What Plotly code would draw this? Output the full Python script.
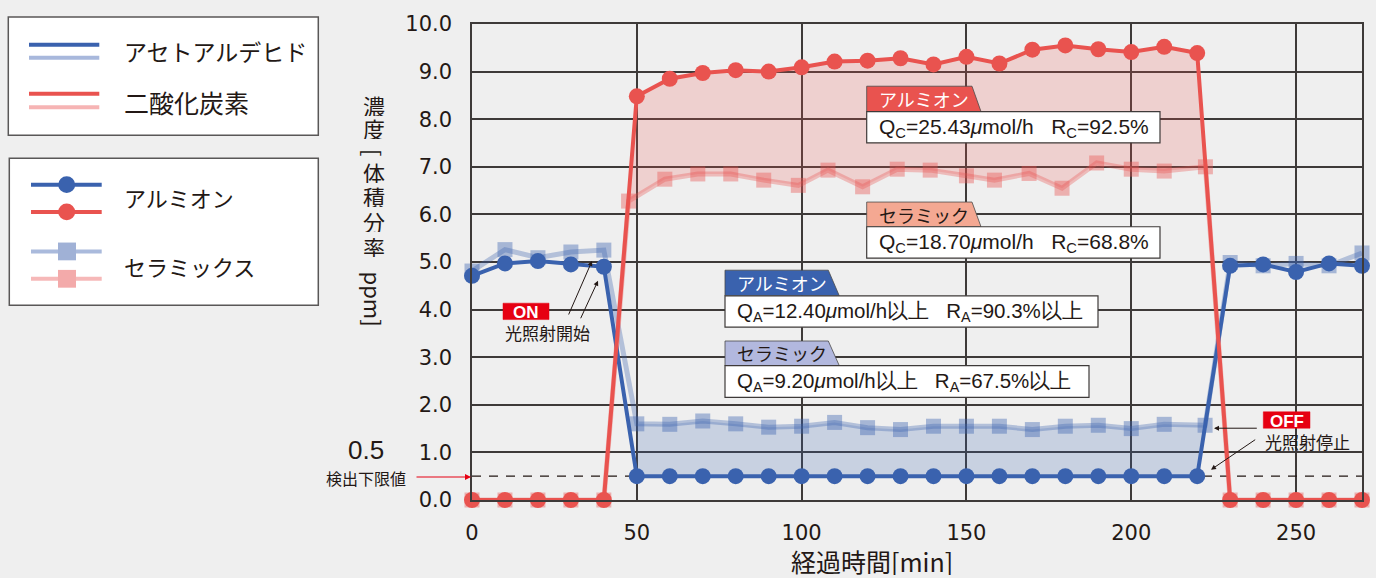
import plotly.graph_objects as go

# ---------------- data ----------------
time_al = [0, 10, 20, 30, 40, 50, 60, 70, 80, 90, 100, 110, 120, 130, 140, 150, 160, 170,
           180, 190, 200, 210, 220, 230, 240, 250, 260, 270]
acet_alumion = [4.71, 4.97, 5.02, 4.95, 4.90,
                0.5, 0.5, 0.5, 0.5, 0.5, 0.5, 0.5, 0.5, 0.5, 0.5, 0.5, 0.5, 0.5, 0.5, 0.5, 0.5, 0.5, 0.5,
                4.92, 4.95, 4.79, 4.97, 4.92]
co2_alumion = [0, 0, 0, 0, 0,
               8.48, 8.85, 8.97, 9.03, 9.00, 9.09, 9.21, 9.23, 9.28, 9.15, 9.31, 9.17, 9.46, 9.55,
               9.47, 9.41, 9.52, 9.39,
               0, 0, 0, 0, 0]

time_acet_ceramic = [0, 10, 20, 30, 40, 50, 60, 70, 80, 90, 100, 110, 120, 130, 140, 150, 160,
                     170, 180, 190, 200, 210, 222.4, 230, 240, 250, 260, 270]
acet_ceramic = [4.81, 5.26, 5.09, 5.21, 5.25,
                1.60, 1.59, 1.66, 1.60, 1.53, 1.55, 1.63, 1.52, 1.48, 1.55, 1.55, 1.55, 1.48,
                1.55, 1.57, 1.50, 1.59, 1.57,
                4.99, 4.92, 4.97, 4.92, 5.19]

time_co2_ceramic = [0, 10, 20, 30, 40, 47.5, 58.5, 68.5, 78.5, 88.5, 99, 108, 118.5, 129, 139,
                    150, 158.5, 169, 179, 189.5, 200, 210, 222.5, 230, 240, 250, 260, 270]
co2_ceramic = [0, 0, 0, 0, 0,
               6.28, 6.74, 6.85, 6.85, 6.72, 6.61, 6.93, 6.58, 6.95, 6.93, 6.81, 6.72, 6.86,
               6.55, 7.08, 6.95, 6.91, 7.00,
               0, 0, 0, 0, 0]

x_ticks = [0, 50, 100, 150, 200, 250]
y_ticks = [0, 1, 2, 3, 4, 5, 6, 7, 8, 9, 10]
detect_limit = 0.5
light_on, light_off = 5, 23  # index range of irradiation period

# ---------------- style ----------------
BG = "#efefef"
INK = "#231815"
GRID = "#3e3a39"
BLUE = "rgb(58,98,174)"
RED = "rgb(233,83,79)"
JP = "Noto Sans CJK JP"
NUM = "DejaVu Sans"
LAT = "Liberation Sans"
W, H = 1376, 578
L, R, T, B = 472, 14, 18, 78
PW, PH = W - L - R, H - T - B


def PX(x):
    return (x - L) / PW


def PY(y):
    return (T + PH - y) / PH


fig = go.Figure()

# fills between series during irradiation
red_fill_x = time_al[light_on:light_off] + time_co2_ceramic[light_on:light_off][::-1]
red_fill_y = co2_alumion[light_on:light_off] + co2_ceramic[light_on:light_off][::-1]
fig.add_trace(go.Scatter(x=red_fill_x, y=red_fill_y, mode="lines", fill="toself",
                         fillcolor="rgba(233,83,79,0.2)", line=dict(width=0),
                         hoverinfo="skip", showlegend=False))
blue_fill_x = time_acet_ceramic[light_on:light_off] + time_al[light_on:light_off][::-1]
blue_fill_y = acet_ceramic[light_on:light_off] + acet_alumion[light_on:light_off][::-1]
fig.add_trace(go.Scatter(x=blue_fill_x, y=blue_fill_y, mode="lines", fill="toself",
                         fillcolor="rgba(58,98,174,0.21)", line=dict(width=0),
                         hoverinfo="skip", showlegend=False))

# ceramic series (light, squares)
fig.add_trace(go.Scatter(x=time_acet_ceramic, y=acet_ceramic, mode="lines+markers",
                         line=dict(color="rgba(58,98,174,0.33)", width=5),
                         marker=dict(symbol="square", size=15, color="rgba(58,98,174,0.4)"),
                         cliponaxis=False, showlegend=False))
fig.add_trace(go.Scatter(x=time_co2_ceramic, y=co2_ceramic, mode="lines+markers",
                         line=dict(color="rgba(233,83,79,0.33)", width=5),
                         marker=dict(symbol="square", size=15, color="rgba(233,83,79,0.4)"),
                         cliponaxis=False, showlegend=False))
# alumion series (dark, circles)
fig.add_trace(go.Scatter(x=time_al, y=acet_alumion, mode="lines+markers",
                         line=dict(color=BLUE, width=4),
                         marker=dict(symbol="circle", size=16, color=BLUE),
                         cliponaxis=False, showlegend=False))
fig.add_trace(go.Scatter(x=time_al, y=co2_alumion, mode="lines+markers",
                         line=dict(color=RED, width=4),
                         marker=dict(symbol="circle", size=16, color=RED),
                         cliponaxis=False, showlegend=False))

shapes = []
annos = []

# detection limit dashed line
shapes.append(dict(type="line", xref="x", yref="y", x0=0, x1=270, y0=detect_limit, y1=detect_limit,
                   line=dict(color=INK, width=1.3, dash="9px,8px"), layer="between"))


def txt(x, y, s, size, color=INK, family=JP, xanchor="center", yanchor="middle", angle=0,
        height=None):
    a = dict(x=PX(x), y=PY(y), xref="paper", yref="paper", text=s, showarrow=False,
             xanchor=xanchor, yanchor=yanchor, textangle=angle,
             font=dict(size=size, color=color, family=family))
    if height is not None:
        a["height"] = height
    annos.append(a)


def arrow(hx, hy, tx, ty, color=INK, width=1.0, size=1.0):
    annos.append(dict(x=PX(hx), y=PY(hy), xref="paper", yref="paper", text="", showarrow=True,
                      ax=tx - hx, ay=ty - hy, arrowhead=2, arrowsize=size, arrowwidth=width,
                      arrowcolor=color))


def rect(x0, y0, x1, y1, fill, line=GRID, lw=1.2):
    shapes.append(dict(type="rect", xref="paper", yref="paper", x0=PX(x0), x1=PX(x1),
                       y0=PY(y1), y1=PY(y0), fillcolor=fill,
                       line=dict(color=line, width=lw), layer="above"))


def tab(x0, y0, xt, xb, y1, fill):
    p = "M {} {} L {} {} L {} {} L {} {} Z".format(PX(x0), PY(y1), PX(x0), PY(y0), PX(xt), PY(y0),
                                                   PX(xb), PY(y1))
    shapes.append(dict(type="path", xref="paper", yref="paper", path=p, fillcolor=fill,
                       line=dict(color="#4a4a4a", width=0.8), layer="above"))


NB = "\u00a0"
# annotation boxes (CO2)
tab(866.7, 81, 972, 981, 106.7, RED)
txt(876.7, 94, "アルミオン", 18, color="white", xanchor="left")
rect(866.7, 106.7, 1160, 138.3, "white")
txt(876.7, 123, "Q<sub>C</sub>=25.43<i>μ</i>mol/h" + NB * 3 + "R<sub>C</sub>=92.5%", 21,
    family=LAT, xanchor="left")
tab(866.7, 198.3, 972, 981, 223.3, "rgb(244,168,146)")
txt(876.7, 211, "セラミック", 18, xanchor="left")
rect(866.7, 223.3, 1160, 255, "white")
txt(876.7, 239.5, "Q<sub>C</sub>=18.70<i>μ</i>mol/h" + NB * 3 + "R<sub>C</sub>=68.8%", 21,
    family=LAT, xanchor="left")
# annotation boxes (acetaldehyde)
tab(725, 267.3, 828.3, 839.3, 293.3, BLUE)
txt(735, 280.5, "アルミオン", 18, color="white", xanchor="left")
rect(725, 293.3, 1098, 325, "white")
txt(735, 309.5, "Q<sub>A</sub>=12.40<i>μ</i>mol/h以上" + NB * 3 + "R<sub>A</sub>=90.3%以上", 20.5,
    family=LAT, xanchor="left")
tab(725, 339, 828.3, 839.3, 364, "rgb(178,184,222)")
txt(735, 351.5, "セラミック", 18, xanchor="left")
rect(725, 364, 1089, 396, "white")
txt(735, 380.5, "Q<sub>A</sub>=9.20<i>μ</i>mol/h以上" + NB * 3 + "R<sub>A</sub>=67.5%以上", 20.5,
    family=LAT, xanchor="left")

# ON / OFF markers
ONRED = "#e60012"
rect(503, 300.7, 549, 317.3, ONRED, line=ONRED, lw=0.5)
txt(526, 309.5, "<b>ON</b>", 17, color="white", family=LAT, height=16)
txt(547.7, 330, "光照射開始", 17)
arrow(592, 258, 568, 313)
arrow(598, 278, 580, 317)
rect(1263.3, 410.7, 1310, 427.3, ONRED, line=ONRED, lw=0.5)
txt(1286.7, 419.5, "<b>OFF</b>", 17, color="white", family=LAT, height=16)
txt(1307.5, 440.5, "光照射停止", 17)
arrow(1214, 427.3, 1258.3, 427.3)
arrow(1211, 469.3, 1256.7, 438.3)

# detection limit label
txt(365.5, 449, "0.5", 26, family=LAT, height=26)
txt(365.5, 477.5, "検出下限値", 16, height=20)
arrow(471, 476.7, 415, 476.7, color=ONRED, width=1.2)

# y-axis title (vertical writing)
for ch, yc in [("濃", 100), ("度", 123), ("体", 167), ("積", 191.5), ("分", 217), ("率", 242.5)]:
    txt(374, yc, ch, 22, height=23)
txt(374, 147.5, "[", 22, angle=90)
txt(374, 296, "ppm]", 22, angle=90)

# x-axis title
txt(872, 562, "経過時間[min]", 25, height=28)

# legends
rect(8.3, 11, 318.3, 130.7, "white", line="#595757", lw=1.5)
for yy, col in [(39, BLUE), (52.3, "rgb(168,184,220)"), (88.7, RED), (102.3, "rgb(246,180,180)")]:
    shapes.append(dict(type="line", xref="paper", yref="paper", x0=PX(29), x1=PX(99.3),
                       y0=PY(yy), y1=PY(yy), line=dict(color=col, width=4), layer="above"))
txt(121.7, 45, "アセトアルデヒド", 23, xanchor="left")
txt(121.7, 96.5, "二酸化炭素", 25, xanchor="left")

rect(9.3, 154, 318.3, 302.7, "white", line="#595757", lw=1.5)
for yy, col in [(180.7, BLUE), (208.3, RED)]:
    shapes.append(dict(type="line", xref="paper", yref="paper", x0=PX(31), x1=PX(101.7),
                       y0=PY(yy), y1=PY(yy), line=dict(color=col, width=4), layer="above"))
    shapes.append(dict(type="circle", xref="paper", yref="paper", x0=PX(58.2), x1=PX(75.2),
                       y0=PY(yy + 8.5), y1=PY(yy - 8.5), fillcolor=col, line=dict(width=0),
                       layer="above"))
for yy, lcol, mcol in [(248.3, "rgb(170,186,220)", "rgb(160,177,214)"),
                       (276, "rgb(246,184,184)", "rgb(243,170,170)")]:
    shapes.append(dict(type="line", xref="paper", yref="paper", x0=PX(31), x1=PX(101.7),
                       y0=PY(yy), y1=PY(yy), line=dict(color=lcol, width=4), layer="above"))
    shapes.append(dict(type="rect", xref="paper", yref="paper", x0=PX(58), x1=PX(76),
                       y0=PY(yy + 9), y1=PY(yy - 9), fillcolor=mcol, line=dict(width=0),
                       layer="above"))
txt(121.7, 193.5, "アルミオン", 22, xanchor="left")
txt(121.7, 263.5, "セラミックス", 22, xanchor="left")

fig.update_layout(
    width=W, height=H, autosize=False,
    margin=dict(l=L, r=R, t=T, b=B, pad=0),
    paper_bgcolor=BG, plot_bgcolor=BG,
    showlegend=False,
    shapes=shapes, annotations=annos,
    font=dict(family=NUM, color=INK),
    xaxis=dict(range=[0, 270], tickmode="array", tickvals=x_ticks,
               ticktext=[str(v) for v in x_ticks],
               showgrid=True, gridcolor=GRID, gridwidth=1.5, zeroline=False,
               showline=True, linecolor=GRID, linewidth=1.5, mirror=True,
               ticks="", ticklabelstandoff=13, tickfont=dict(size=21, family=NUM, color=INK)),
    yaxis=dict(range=[0, 10], tickmode="array", tickvals=y_ticks,
               ticktext=["{:.1f}".format(v) for v in y_ticks],
               showgrid=True, gridcolor=GRID, gridwidth=1.5, zeroline=False,
               showline=True, linecolor=GRID, linewidth=1.5, mirror=True,
               ticks="", ticklabelstandoff=14, tickfont=dict(size=21, family=NUM, color=INK)),
)

fig.write_html("out.html", config={"displayModeBar": False},
               post_script="document.body.style.margin='0';document.body.style.overflow='hidden';"
                           "document.body.style.background='" + BG + "';")
